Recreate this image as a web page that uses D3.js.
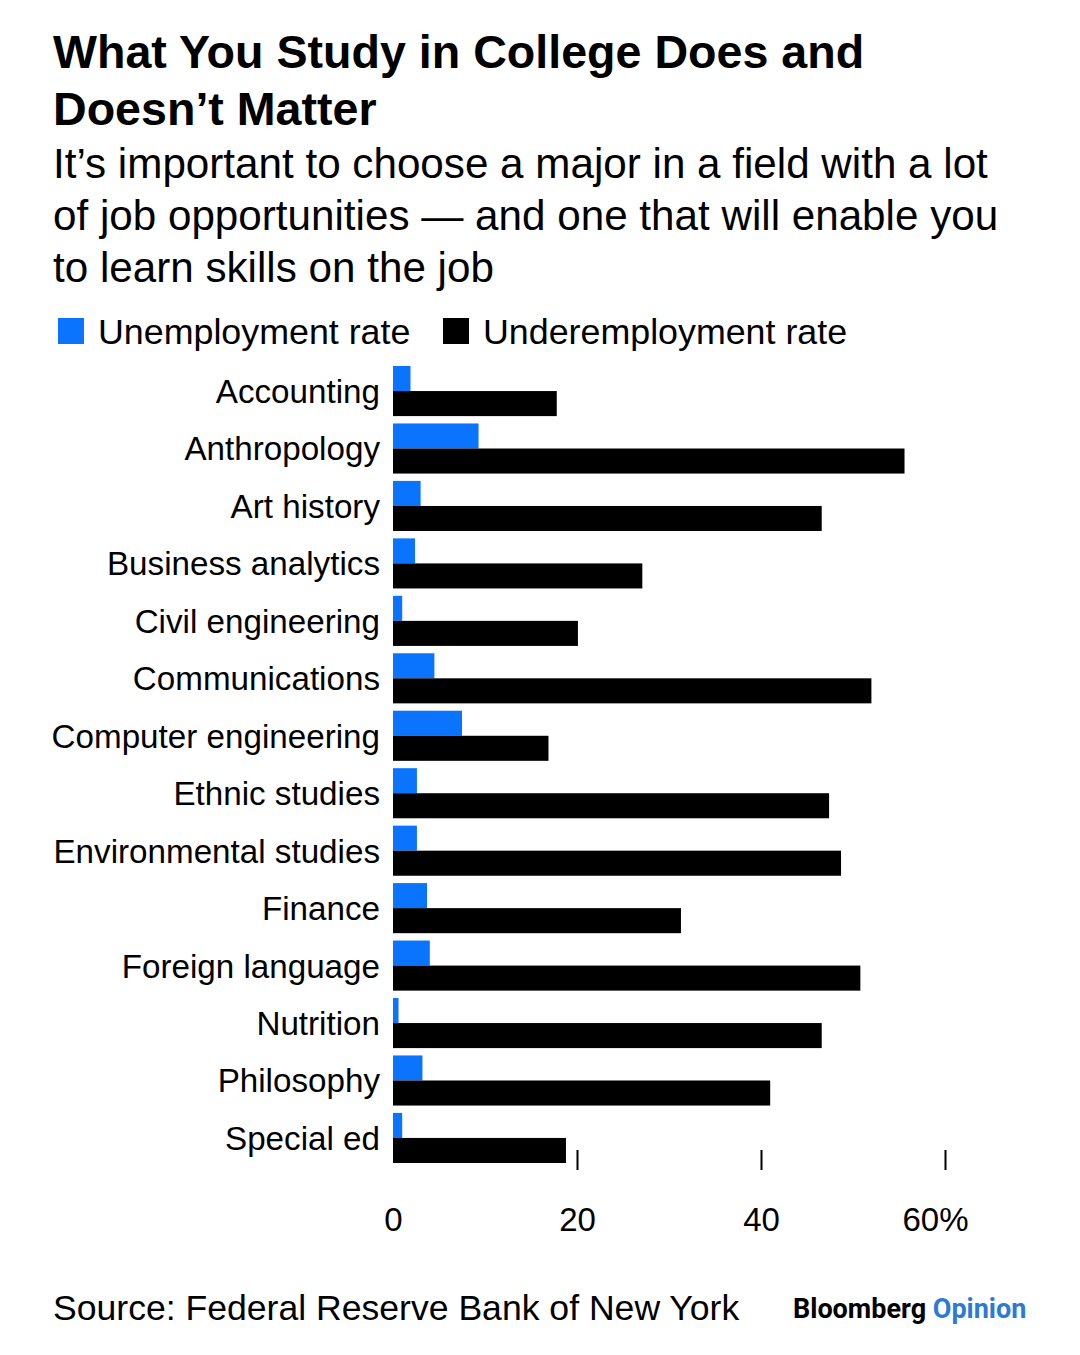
<!DOCTYPE html>
<html lang="en">
<head>
<meta charset="utf-8">
<title>What You Study in College Does and Doesn't Matter</title>
<script src="https://cdn.jsdelivr.net/npm/d3@7"></script>
<style>
  body { margin: 0; background: #fff; }
  text { font-family: "Liberation Sans", Arial, Helvetica, sans-serif; fill: #000; }
</style>
</head>
<body>
<svg id="chart" width="1080" height="1355"></svg>
<script>
// data (percent)
var majors = ["Accounting", "Anthropology", "Art history", "Business analytics",
  "Civil engineering", "Communications", "Computer engineering", "Ethnic studies",
  "Environmental studies", "Finance", "Foreign language", "Nutrition",
  "Philosophy", "Special ed"];
var unemployment = [1.9, 9.3, 3.0, 2.4, 1.0, 4.5, 7.5, 2.6, 2.6, 3.7, 4.0, 0.6, 3.2, 1.0];
var underemployment = [17.8, 55.6, 46.6, 27.1, 20.1, 52.0, 16.9, 47.4, 48.7, 31.3, 50.8, 46.6, 41.0, 18.8];
var seriesNames = ["Unemployment rate", "Underemployment rate"];
var seriesColors = ["#0a74ff", "#000000"];
var xTicks = [0, 20, 40, 60];

var svg = d3.select("#chart");
svg.append("rect").attr("width", 1080).attr("height", 1355).attr("fill", "#fff");

// title + subtitle
var title = ["What You Study in College Does and", "Doesn\u2019t Matter"];
svg.selectAll("text.title").data(title).enter().append("text")
  .attr("class", "title")
  .attr("x", 53).attr("y", function(d, i) { return 68 + i * 57; })
  .attr("font-size", "46.6px").attr("font-weight", "bold")
  .text(function(d) { return d; });

var sub = ["It\u2019s important to choose a major in a field with a lot",
  "of job opportunities \u2014 and one that will enable you",
  "to learn skills on the job"];
svg.selectAll("text.sub").data(sub).enter().append("text")
  .attr("class", "sub")
  .attr("x", 53).attr("y", function(d, i) { return 178 + i * 52; })
  .attr("font-size", "42.2px")
  .text(function(d) { return d; });

// legend
var legendX = [58, 443];
var lg = svg.selectAll("g.legend").data(seriesNames).enter().append("g")
  .attr("class", "legend")
  .attr("transform", function(d, i) { return "translate(" + legendX[i] + ",318)"; });
lg.append("rect").attr("width", 26).attr("height", 26)
  .attr("fill", function(d, i) { return seriesColors[i]; });
lg.append("text").attr("x", 40).attr("y", 26).attr("font-size", "35.8px")
  .text(function(d) { return d; });

// scales
var x = d3.scaleLinear().domain([0, 60]).range([393, 945]);
var y = d3.scaleBand().domain(majors).range([366, 1163]).paddingInner(0.128);
var sub2 = d3.scaleBand().domain([0, 1]).range([0, y.bandwidth()]);

var rows = svg.selectAll("g.row").data(majors).enter().append("g")
  .attr("class", "row")
  .attr("transform", function(d) { return "translate(0," + y(d) + ")"; });

rows.append("rect")
  .attr("x", x(0)).attr("y", sub2(0))
  .attr("width", function(d, i) { return x(unemployment[i]) - x(0); })
  .attr("height", sub2.bandwidth())
  .attr("fill", seriesColors[0]);

rows.append("rect")
  .attr("x", x(0)).attr("y", sub2(1))
  .attr("width", function(d, i) { return x(underemployment[i]) - x(0); })
  .attr("height", sub2.bandwidth())
  .attr("fill", seriesColors[1]);

rows.append("text")
  .attr("x", 380).attr("y", y.bandwidth() / 2).attr("dy", "0.36em")
  .attr("text-anchor", "end").attr("font-size", "33.2px")
  .text(function(d) { return d; });

// x axis: short ticks, no domain line
var xAxis = d3.axisBottom(x).tickValues(xTicks).tickSize(20)
  .tickFormat(function(d) { return d === 60 ? d + "%" : d; });
var ax = svg.append("g").attr("transform", "translate(0,1150)").call(xAxis);
ax.select(".domain").remove();
ax.selectAll(".tick line").attr("stroke", "#000").attr("stroke-width", 2)
  .filter(function(d) { return d === 0; }).remove();
ax.selectAll(".tick text")
  .attr("y", 81).attr("dy", 0)
  .attr("font-size", "33px").attr("fill", "#000")
  .attr("font-family", "Liberation Sans, Arial, sans-serif")
  .attr("dx", function(d) { return d === 60 ? -10 : 0; });

// footer
svg.append("text").attr("x", 53).attr("y", 1320).attr("font-size", "35.6px")
  .text("Source: Federal Reserve Bank of New York");
var logo = svg.append("text").attr("x", 793).attr("y", 1318)
  .attr("font-size", "27px").attr("font-weight", "bold")
  .style("font-family", "Roboto, 'Liberation Sans', sans-serif");
logo.append("tspan").text("Bloomberg");
logo.append("tspan").attr("fill", "#2a7ad6").style("fill", "#2a7ad6").text(" Opinion");
</script>
</body>
</html>
